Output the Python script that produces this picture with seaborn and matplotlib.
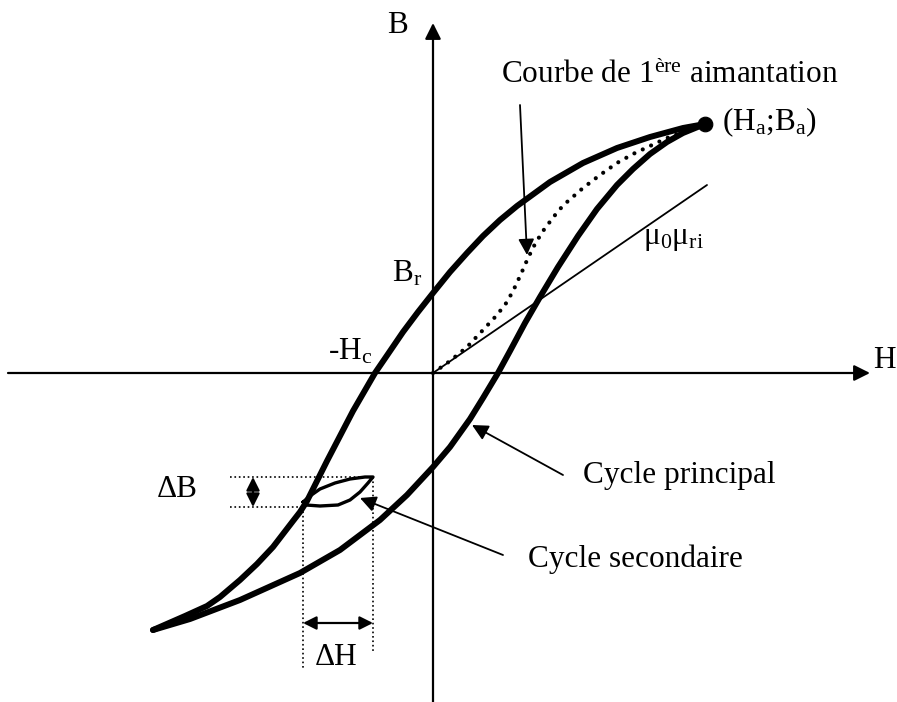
import numpy as np
import pandas as pd
import matplotlib.pyplot as plt
import seaborn as sns

# main cycle, descending branch (from (Ha;Ba) down to -Ha)
H_down = [272, 250, 217, 184, 150, 117, 84, 67, 50, 34, 17, 0, -15, -30, -45, -58, -69, -80, -93,
          -106, -117, -126, -133, -140, -160, -176, -193, -213, -226, -248, -280]
B_down = [249, 245, 236, 225, 210, 191, 167, 153, 137, 120, 101, 80, 61, 41, 19, 0, -19, -38, -63,
          -88, -110, -128, -139, -148, -174, -191, -207, -224, -233, -243, -257]

# main cycle, ascending branch
H_up = [-280, -243, -193, -133, -93, -53, -26, 0, 17, 37, 50, 65, 77, 92, 107, 125, 145, 164,
        184, 200, 217, 234, 250, 272]
B_up = [-257, -246, -227, -200, -177, -147, -122, -94, -74, -46, -25, 0, 22, 50, 76, 106, 137, 164,
        188, 204, 219, 231, 240, 249]

# first magnetisation curve
H_first = [0, 17, 34, 50, 64, 74, 81, 88, 95, 102, 110, 119, 126, 134, 142, 150, 167, 184, 200,
           217, 234, 257, 272]
B_first = [0, 12, 26, 43, 58, 71, 84, 99, 115, 129, 142, 154, 163, 171, 178, 185, 198, 210, 219,
           227, 235, 244, 249]

# initial permeability line
H_mu = [0, 274]
B_mu = [0, 188]

# minor loop
H_minor = [-130, -123, -113, -98, -83, -68, -60, -65, -73, -83, -95, -113, -127, -130]
B_minor = [-129, -123, -116, -110, -106, -104, -104, -110, -119, -127, -132, -133, -132, -129]

Ha, Ba = 272, 249
dH = [-130, -60]
dB = [-134, -104]

sns.set_theme(style="white")
plt.rcParams['font.family'] = ['Liberation Serif', 'DejaVu Serif']
plt.rcParams['mathtext.fontset'] = 'custom'
plt.rcParams['mathtext.rm'] = 'Liberation Serif'
plt.rcParams['mathtext.it'] = 'Liberation Serif:italic'

fig = plt.figure(figsize=(8.97, 7.02), dpi=100)
ax = fig.add_axes([0, 0, 1, 1])
ax.set_xlim(-433, 464)
ax.set_ylim(-329, 373)
ax.axis('off')

cycle = pd.DataFrame({"H": H_down + H_up, "B": B_down + B_up,
                      "branche": ["desc"] * len(H_down) + ["asc"] * len(H_up)})
sns.lineplot(data=cycle, x="H", y="B", units="branche", estimator=None, sort=False,
             color="black", lw=4.3, solid_capstyle="round", solid_joinstyle="round", ax=ax)
sns.lineplot(x=H_first, y=B_first, sort=False, estimator=None, color="black", lw=3,
             linestyle=(0, (0.01, 2.2)), dash_capstyle="round", ax=ax)
sns.lineplot(x=H_mu, y=B_mu, sort=False, estimator=None, color="black", lw=1.3, ax=ax)
sns.lineplot(x=H_minor, y=B_minor, sort=False, estimator=None, color="black", lw=2.4,
             solid_joinstyle="round", ax=ax)
sns.scatterplot(x=[Ha], y=[Ba], s=110, color="black", edgecolor="black", ax=ax, zorder=5)

# dotted guides for the minor loop
ax.plot([-203, dH[1]], [dB[1], dB[1]], color="black", lw=1.2, ls=":")
ax.plot([-203, dH[0]], [dB[0], dB[0]], color="black", lw=1.2, ls=":")
ax.plot([dH[0], dH[0]], [dB[0], -295], color="black", lw=1.2, ls=":")
ax.plot([dH[1], dH[1]], [dB[1], -279], color="black", lw=1.2, ls=":")

# axes arrows
axis_arrow = dict(arrowstyle="-|>", lw=1.6, color="black", mutation_scale=24, shrinkA=0, shrinkB=0)
ax.annotate("", xy=(437, 0), xytext=(-425, 0), arrowprops=axis_arrow)
ax.annotate("", xy=(0, 350), xytext=(0, -329), arrowprops=axis_arrow)

# pointer arrows
ptr = dict(arrowstyle="-|>", lw=1.3, color="black", mutation_scale=24, shrinkA=0, shrinkB=0)
ax.annotate("", xy=(94, 118), xytext=(87, 268), arrowprops=ptr)
ax.annotate("", xy=(39, -52), xytext=(130, -102), arrowprops=ptr)
ax.annotate("", xy=(-73, -125), xytext=(70, -182), arrowprops=ptr)

dbl = dict(arrowstyle="<|-|>", lw=1.6, color="black", mutation_scale=20, shrinkA=0, shrinkB=0)
ax.annotate("", xy=(-180, dB[1]), xytext=(-180, dB[0]), arrowprops=dbl)
ax.annotate("", xy=(dH[1], -250), xytext=(dH[0], -250), arrowprops=dbl)

fs = 22.5
txt = dict(fontsize=fs, color="black", va="baseline", ha="left")
ax.text(-46, 340, "B", **txt)
ax.text(440, 5, "H", **txt)
ax.text(68, 290, "Courbe de 1$^{\\mathrm{ère}}$ aimantation", **txt)
ax.text(289, 243, "(H$_{\\mathrm{a}}$;B$_{\\mathrm{a}}$)", **txt)
ax.text(210, 129, "μ$_{\\mathrm{0}}$μ$_{\\mathrm{ri}}$", **txt)
ax.text(-41, 91, "B$_{\\mathrm{r}}$", **txt)
ax.text(-105, 13, "-H$_{\\mathrm{c}}$", **txt)
ax.text(150, -110, "Cycle principal", **txt)
ax.text(95, -194, "Cycle secondaire", **txt)
ax.text(-276, -124, "ΔB", **txt)
ax.text(-118, -292, "ΔH", **txt)

fig.savefig("out.png", dpi=100)
